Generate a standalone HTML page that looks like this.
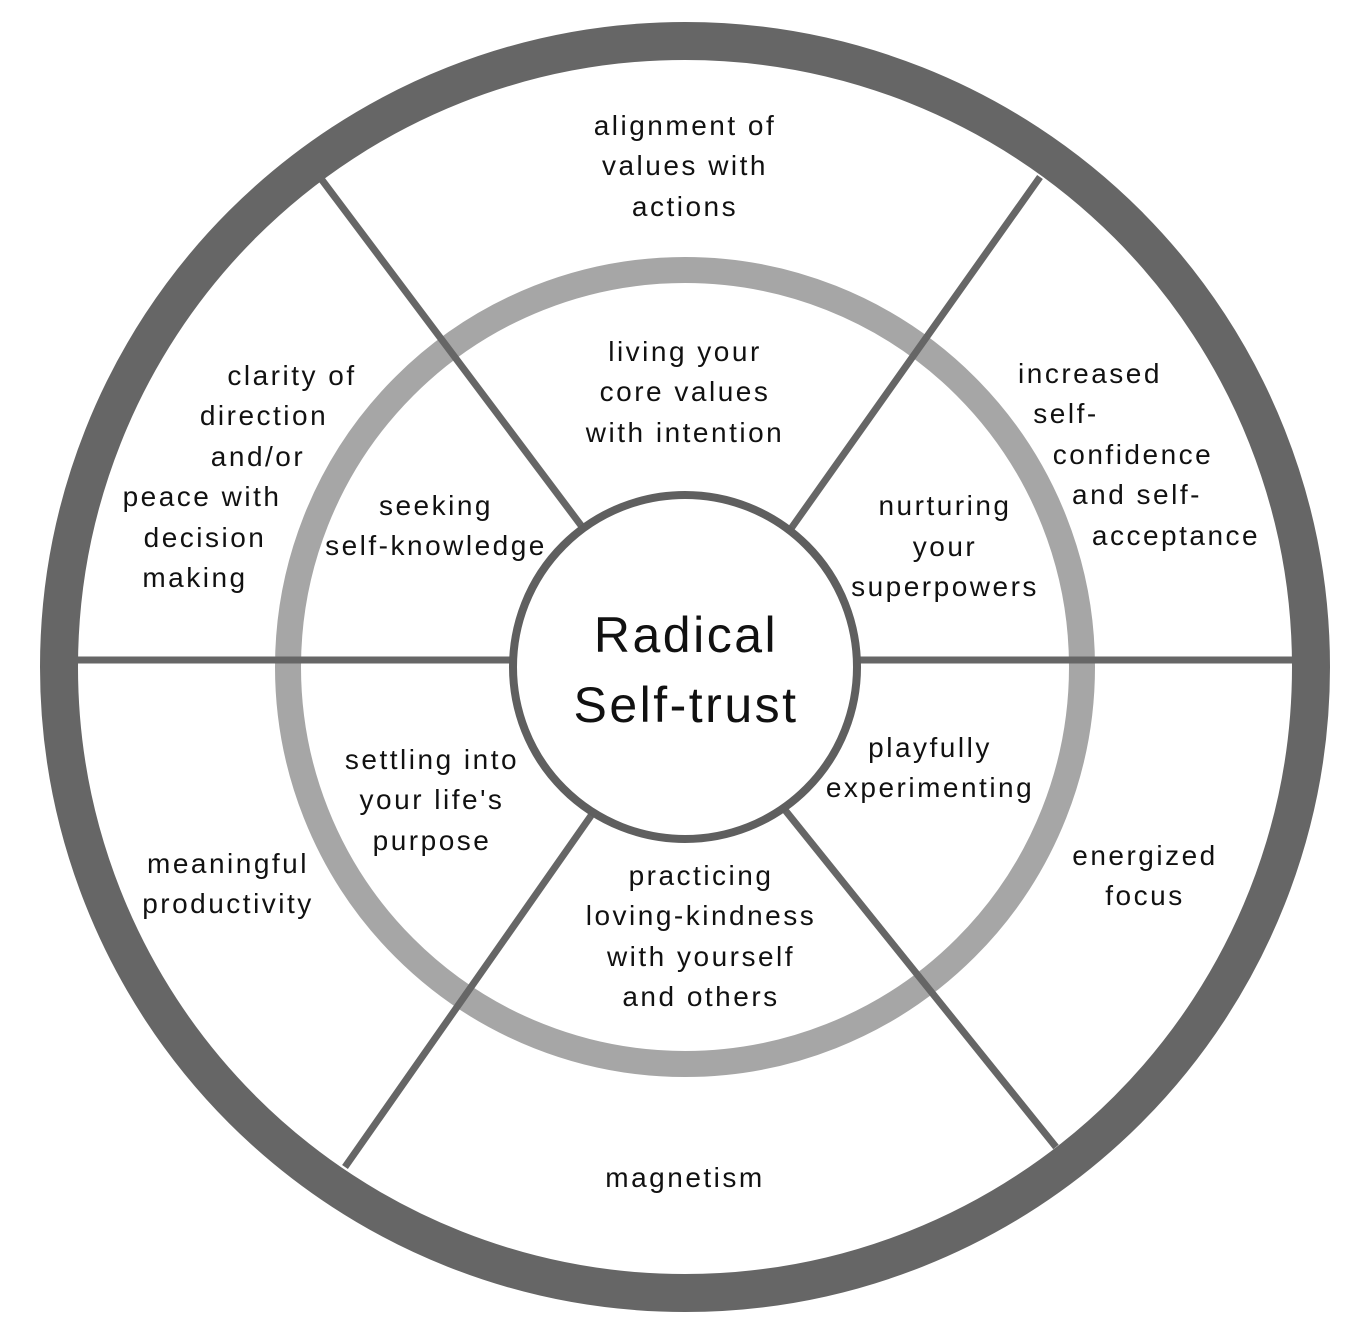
<!DOCTYPE html>
<html><head><meta charset="utf-8"><style>
html,body{margin:0;padding:0;background:#fff}
svg{display:block}
text{font-family:"Liberation Sans",sans-serif;font-size:28px;letter-spacing:2.5px;fill:#111;text-anchor:middle}
</style></head><body>
<svg width="1350" height="1344" viewBox="0 0 1350 1344">
<circle cx="685" cy="667" r="626" fill="none" stroke="#666" stroke-width="38"/>
<circle cx="685" cy="667" r="397" fill="none" stroke="#a6a6a6" stroke-width="26"/>
<g stroke="#666" stroke-width="7" stroke-linecap="butt">
<line x1="78" y1="660" x2="512" y2="660"/>
<line x1="857" y1="660" x2="1292" y2="660"/>
<line x1="322" y1="180" x2="583" y2="528"/>
<line x1="1040" y1="177" x2="790" y2="530"/>
<line x1="595" y1="810" x2="345" y2="1167"/>
<line x1="785" y1="810" x2="1056" y2="1147"/>
</g>
<circle cx="685" cy="667" r="172" fill="#fff" stroke="#5f5f5f" stroke-width="8"/>
<text x="686" y="652" style="font-size:50px;letter-spacing:2.5px">Radical</text>
<text x="686" y="722" style="font-size:50px;letter-spacing:2.5px">Self-trust</text>

<text x="685" y="135">alignment of</text>
<text x="685" y="175">values with</text>
<text x="685" y="216">actions</text>

<text x="685" y="361">living your</text>
<text x="685" y="401">core values</text>
<text x="685" y="442">with intention</text>

<text x="292" y="385">clarity of</text>
<text x="264" y="425">direction</text>
<text x="258" y="466">and/or</text>
<text x="202" y="506">peace with</text>
<text x="205" y="547">decision</text>
<text x="195" y="587">making</text>

<text x="436" y="515">seeking</text>
<text x="436" y="555">self-knowledge</text>

<text x="1090" y="383">increased</text>
<text x="1066" y="423">self-</text>
<text x="1133" y="464">confidence</text>
<text x="1137" y="504">and self-</text>
<text x="1176" y="545">acceptance</text>

<text x="945" y="515">nurturing</text>
<text x="945" y="556">your</text>
<text x="945" y="596">superpowers</text>

<text x="930" y="757">playfully</text>
<text x="930" y="797">experimenting</text>

<text x="432" y="769">settling into</text>
<text x="432" y="809">your life's</text>
<text x="432" y="850">purpose</text>

<text x="228" y="873">meaningful</text>
<text x="228" y="913">productivity</text>

<text x="1145" y="865">energized</text>
<text x="1145" y="905">focus</text>

<text x="701" y="885">practicing</text>
<text x="701" y="925">loving-kindness</text>
<text x="701" y="966">with yourself</text>
<text x="701" y="1006">and others</text>

<text x="685" y="1187">magnetism</text>
</svg>
</body></html>
